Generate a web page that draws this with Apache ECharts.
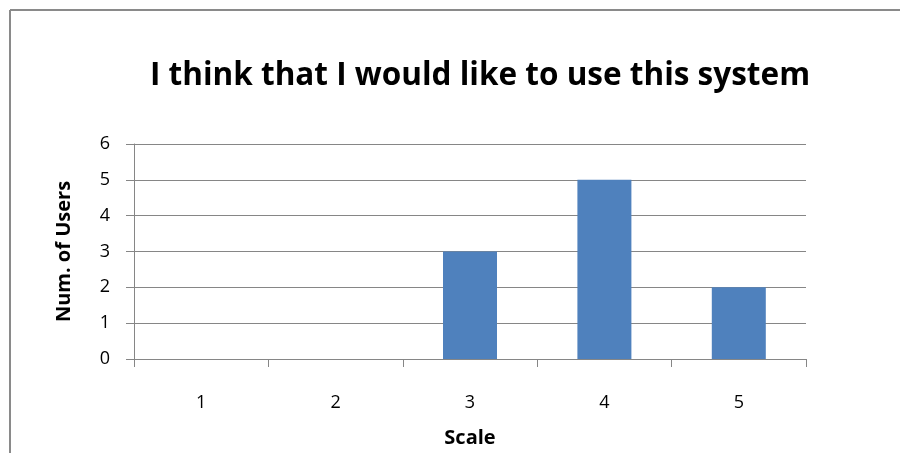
<!DOCTYPE html>
<html><head><meta charset="utf-8">
<script src="https://cdn.jsdelivr.net/npm/echarts@6/dist/echarts.min.js"></script>
<style>html,body{margin:0;padding:0;background:#fff}#c{width:900px;height:453px}</style>
</head><body><div id="c"></div>
<script>
const titleText = "I think that I would like to use this system";
const categories = ["1", "2", "3", "4", "5"];
const users = [0, 0, 3, 5, 2];
const yTicks = [0, 1, 2, 3, 4, 5, 6];
const xName = "Scale";
const yName = "Num. of Users";

const chart = echarts.init(document.getElementById('c'), null, {renderer: 'canvas'});
const font = '"Open Sans", "DejaVu Sans", sans-serif';
chart.setOption({
  animation: false,
  backgroundColor: '#fff',
  title: {
    text: titleText, left: 475, top: 55, textAlign: 'center',
    textStyle: {fontFamily: font, fontWeight: 'bold', fontSize: 31.5, color: '#000'}
  },
  graphic: [
    {type: 'line', shape: {x1: 10, y1: 10, x2: 900, y2: 10}, style: {stroke: '#8a8a8a', lineWidth: 2}},
    {type: 'line', shape: {x1: 10, y1: 10, x2: 10, y2: 453}, style: {stroke: '#8a8a8a', lineWidth: 2}}
  ],
  grid: {left: 134, right: 94, top: 144, bottom: 94, containLabel: false},
  xAxis: {
    type: 'category', data: categories,
    name: xName, nameLocation: 'middle', nameGap: 69,
    nameTextStyle: {fontFamily: font, fontWeight: 'bold', fontSize: 20, color: '#000'},
    axisLine: {lineStyle: {color: '#868686', width: 1}},
    axisTick: {show: true, length: 8, alignWithLabel: false, lineStyle: {color: '#868686'}},
    axisLabel: {fontFamily: font, fontSize: 18, color: '#000', margin: 35}
  },
  yAxis: {
    type: 'value', min: yTicks[0], max: yTicks[yTicks.length - 1], interval: 1,
    name: yName, nameLocation: 'middle', nameGap: 60, nameRotate: 90,
    nameTextStyle: {fontFamily: font, fontWeight: 'bold', fontSize: 20, color: '#000'},
    axisLine: {show: true, lineStyle: {color: '#868686', width: 1}},
    axisTick: {show: true, length: 8, lineStyle: {color: '#868686'}},
    axisLabel: {fontFamily: font, fontSize: 18, color: '#000', margin: 24},
    splitLine: {show: true, lineStyle: {color: '#868686', width: 1}}
  },
  series: [{
    type: 'bar', data: users, barWidth: 54,
    itemStyle: {color: '#4F81BD'}
  }]
});
</script></body></html>
